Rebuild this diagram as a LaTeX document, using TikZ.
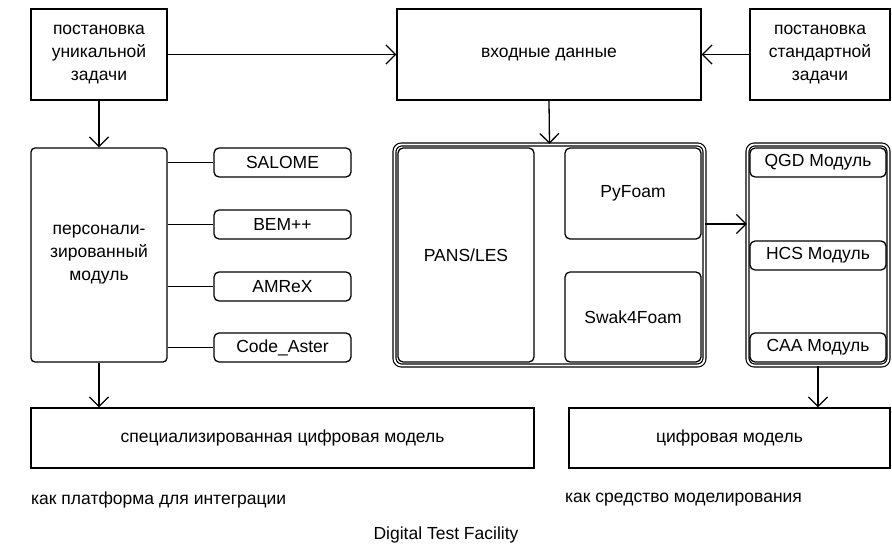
\documentclass[tikz,border=0pt]{standalone}
\usepackage{fontspec}
\setmainfont{Liberation Sans}
\usetikzlibrary{arrows.meta}
\begin{document}
\begin{tikzpicture}[x=1pt,y=-1pt,
  font=\fontsize{17.5}{23}\selectfont,
  box/.style={draw=black, line width=1.3pt, rectangle, inner sep=0pt, align=center},
  rbox/.style={box, rounded corners=5pt},
  dbox/.style={draw=black, line width=1.2pt, double=white, double distance=1.8pt, rectangle, rounded corners=7pt, inner sep=0pt},
  conn/.style={line width=1.3pt},
  arr/.style={line width=1.3pt, -{Straight Barb[length=9.5pt,width=19pt,line width=1.3pt]}},
  captext/.style={inner sep=0pt, anchor=west}
]
\useasboundingbox (0,0) rectangle (892,546);
% top row
\node[box, minimum width=136pt, minimum height=91pt] (u) at (99,54.5) {постановка\\уникальной\\задачи};
\node[box, minimum width=304pt, minimum height=91pt] (inp) at (549,54.5) {входные данные};
\node[box, minimum width=140pt, minimum height=91pt] (std) at (820,54.5) {постановка\\стандартной\\задачи};
% left module
\node[box, rounded corners=4pt, minimum width=136pt, minimum height=214pt] (pers) at (99,255) {персонали-\\зированный\\модуль};
\node[rbox, minimum width=137pt, minimum height=29pt] (s1) at (282.5,162.5) {SALOME};
\node[rbox, minimum width=137pt, minimum height=29pt] (s2) at (282.5,224.5) {BEM++};
\node[rbox, minimum width=137pt, minimum height=29pt] (s3) at (282.5,286.5) {AMReX};
\node[rbox, minimum width=137pt, minimum height=29pt] (s4) at (282.5,347.5) {Code\_Aster};
% middle group
\node[dbox, minimum width=310pt, minimum height=221pt] (grp) at (549.5,255) {};
\node[rbox, minimum width=136pt, minimum height=214pt] (pans) at (466,255) {PANS/LES};
\node[rbox, minimum width=136pt, minimum height=91pt] (pyf) at (633,193.5) {PyFoam};
\node[rbox, minimum width=136pt, minimum height=90pt] (swak) at (633,317) {Swak4Foam};
% right modules
\node[dbox, minimum width=141pt, minimum height=221pt] (mods) at (818,255) {};
\node[rbox, minimum width=136pt, minimum height=29pt] (qgd) at (818,162.5) {QGD Модуль};
\node[rbox, minimum width=136pt, minimum height=29pt] (hcs) at (818,255.5) {HCS Модуль};
\node[rbox, minimum width=136pt, minimum height=29pt] (caa) at (818,347.5) {CAA Модуль};
% bottom
\node[box, minimum width=503pt, minimum height=60pt] (spec) at (282.5,438) {специализированная цифровая модель};
\node[box, minimum width=321pt, minimum height=60pt] (dm) at (729.5,438) {цифровая модель};
\node[captext] (c1) at (31,500) {как платформа для интеграции};
\node[captext] (c2) at (565,500) {как средство моделирования};
\node[inner sep=0pt] (dtf) at (446,535) {Digital Test Facility};
% connectors
\draw[arr] (u.east) -- (inp.west);
\draw[arr] (std.west) -- (inp.east);
\draw[arr] (inp.south) -- (grp.north);
\draw[arr] (u.south) -- (pers.north);
\draw[conn] (pers.east |- s1.west) -- (s1.west);
\draw[conn] (pers.east |- s2.west) -- (s2.west);
\draw[conn] (pers.east |- s3.west) -- (s3.west);
\draw[conn] (pers.east |- s4.west) -- (s4.west);
\draw[arr] (pers.south) -- (pers.south |- spec.north);
\draw[arr] ([yshift=31pt]grp.east) -- ([yshift=31pt]mods.west);
\draw[arr] (mods.south) -- (mods.south |- dm.north);
\end{tikzpicture}
\end{document}
